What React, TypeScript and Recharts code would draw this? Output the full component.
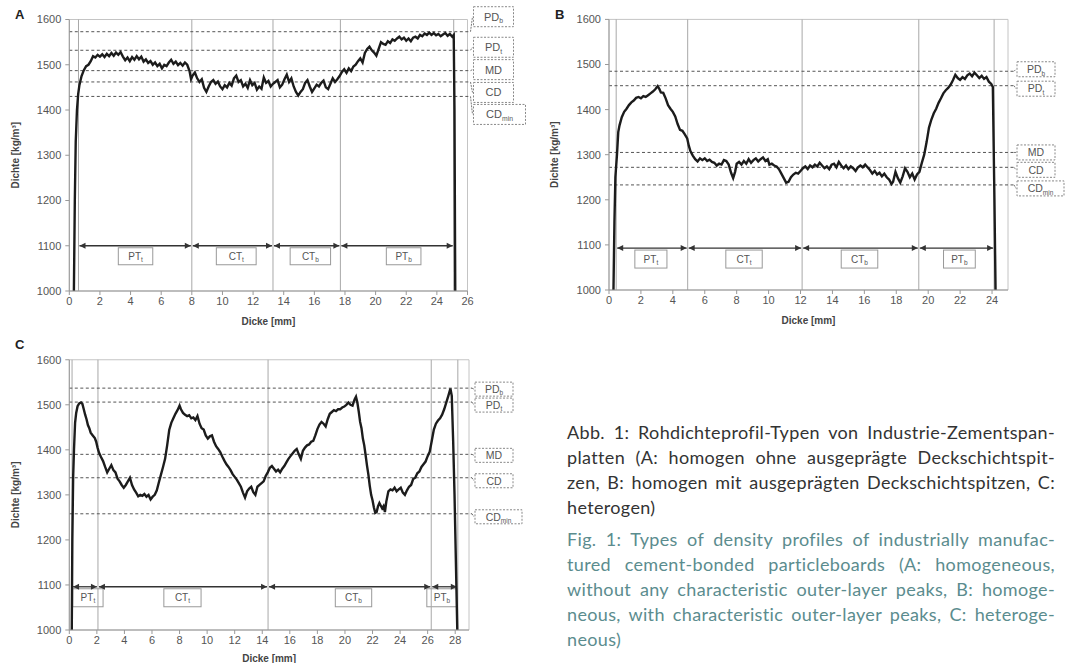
import React from 'react';
import { LineChart, Line, XAxis, YAxis, ReferenceLine, ReferenceArea, Label } from 'recharts';

// ---------------- data ----------------
const thicknessA = [0.30,0.36,0.42,0.50,0.58,0.66,0.80,0.95,1.10,1.25,1.40,1.55,1.70,1.85,2.00,2.15,2.30,2.45,2.60,2.75,2.90,3.05,3.20,3.35,3.50,3.65,3.80,3.95,4.10,4.25,4.40,4.55,4.70,4.85,5.00,5.15,5.30,5.45,5.60,5.75,5.90,6.05,6.20,6.35,6.50,6.65,6.80,6.95,7.10,7.25,7.40,7.55,7.70,7.85,7.95,8.05,8.20,8.35,8.50,8.65,8.80,8.95,9.10,9.25,9.40,9.55,9.70,9.85,10.00,10.15,10.30,10.45,10.60,10.75,10.90,11.05,11.20,11.35,11.50,11.65,11.80,11.95,12.10,12.25,12.40,12.55,12.70,12.85,13.00,13.15,13.30,13.45,13.60,13.75,13.90,14.05,14.20,14.35,14.50,14.65,14.80,14.95,15.10,15.25,15.40,15.55,15.70,15.85,16.00,16.15,16.30,16.45,16.60,16.75,16.90,17.05,17.20,17.35,17.50,17.65,17.80,17.95,18.10,18.25,18.40,18.55,18.70,18.85,19.00,19.15,19.30,19.45,19.60,19.75,19.90,20.05,20.20,20.35,20.50,20.65,20.80,20.95,21.10,21.25,21.40,21.55,21.70,21.85,22.00,22.15,22.30,22.45,22.60,22.75,22.90,23.05,23.20,23.35,23.50,23.65,23.80,23.95,24.10,24.25,24.40,24.55,24.70,24.85,25.00,25.10,25.15,25.20];
const densityA = [1000,1200,1330,1400,1435,1455,1475,1488,1497,1500,1508,1519,1516,1522,1518,1523,1517,1524,1519,1526,1520,1527,1522,1528,1518,1510,1516,1508,1517,1511,1519,1512,1518,1507,1512,1504,1508,1500,1505,1497,1502,1492,1500,1497,1505,1511,1502,1507,1499,1504,1498,1505,1500,1486,1468,1476,1483,1470,1462,1468,1449,1440,1452,1462,1466,1458,1463,1452,1446,1455,1450,1460,1454,1470,1476,1462,1466,1452,1458,1449,1466,1455,1460,1445,1452,1447,1472,1460,1464,1452,1458,1462,1466,1450,1456,1468,1478,1462,1470,1452,1440,1432,1440,1446,1460,1466,1452,1440,1448,1456,1452,1460,1465,1450,1446,1458,1470,1462,1468,1475,1484,1490,1482,1492,1486,1496,1500,1508,1514,1505,1526,1535,1540,1532,1527,1520,1535,1550,1546,1544,1552,1548,1556,1553,1558,1562,1556,1560,1553,1558,1552,1560,1562,1558,1566,1563,1569,1566,1571,1566,1570,1565,1568,1563,1567,1570,1564,1568,1562,1566,1400,1000];

const thicknessB = [0.28,0.34,0.40,0.50,0.58,0.66,0.80,0.95,1.10,1.25,1.40,1.55,1.70,1.85,2.00,2.15,2.30,2.45,2.60,2.75,2.90,3.05,3.15,3.25,3.40,3.55,3.70,3.85,4.00,4.15,4.30,4.45,4.60,4.75,4.90,5.00,5.10,5.25,5.40,5.55,5.70,5.85,6.00,6.15,6.30,6.45,6.60,6.75,6.90,7.05,7.20,7.35,7.50,7.65,7.78,7.90,8.00,8.15,8.30,8.45,8.60,8.75,8.90,9.05,9.20,9.35,9.50,9.65,9.80,9.95,10.05,10.20,10.35,10.50,10.65,10.80,10.95,11.10,11.25,11.40,11.55,11.70,11.85,12.00,12.15,12.30,12.45,12.60,12.75,12.90,13.05,13.20,13.35,13.50,13.65,13.80,13.95,14.10,14.25,14.40,14.55,14.70,14.85,15.00,15.15,15.30,15.45,15.60,15.75,15.90,16.05,16.20,16.35,16.50,16.65,16.80,16.95,17.10,17.25,17.40,17.55,17.70,17.80,17.95,18.10,18.25,18.40,18.55,18.70,18.85,19.00,19.15,19.30,19.45,19.60,19.75,19.90,20.05,20.20,20.35,20.50,20.65,20.80,20.95,21.10,21.25,21.40,21.55,21.70,21.85,22.00,22.15,22.30,22.45,22.60,22.75,22.90,23.05,23.20,23.35,23.50,23.65,23.80,23.95,24.05,24.15,24.22];
const densityB = [1000,1150,1250,1300,1350,1365,1383,1395,1402,1410,1416,1420,1426,1428,1425,1430,1428,1432,1436,1440,1445,1452,1446,1438,1437,1425,1410,1402,1395,1385,1368,1355,1353,1345,1336,1320,1308,1298,1290,1285,1292,1288,1292,1286,1289,1284,1282,1276,1280,1278,1288,1286,1278,1260,1248,1262,1280,1284,1278,1286,1280,1290,1282,1288,1292,1285,1290,1294,1286,1290,1278,1280,1276,1274,1268,1258,1248,1238,1240,1250,1256,1260,1258,1264,1270,1274,1268,1276,1272,1278,1274,1282,1276,1270,1274,1268,1278,1280,1272,1284,1276,1270,1276,1268,1274,1270,1264,1272,1276,1272,1278,1272,1266,1258,1264,1256,1260,1252,1258,1250,1245,1235,1240,1262,1248,1238,1252,1270,1262,1250,1258,1245,1256,1262,1282,1300,1328,1360,1378,1392,1402,1415,1425,1436,1443,1448,1455,1465,1477,1470,1466,1472,1468,1476,1480,1474,1482,1476,1470,1475,1468,1472,1462,1457,1450,1200,1000];

const thicknessC = [0.18,0.22,0.28,0.34,0.42,0.50,0.60,0.72,0.85,0.95,1.05,1.15,1.25,1.35,1.45,1.55,1.70,1.85,1.95,2.05,2.15,2.30,2.45,2.60,2.75,2.90,3.05,3.20,3.35,3.50,3.65,3.80,3.95,4.10,4.25,4.40,4.55,4.70,4.85,5.00,5.15,5.30,5.45,5.60,5.75,5.90,6.05,6.20,6.35,6.50,6.65,6.80,6.95,7.10,7.25,7.40,7.55,7.70,7.85,8.00,8.10,8.25,8.40,8.55,8.70,8.85,9.00,9.15,9.30,9.45,9.60,9.75,9.90,10.05,10.20,10.35,10.50,10.65,10.80,10.95,11.10,11.25,11.40,11.55,11.70,11.85,12.00,12.15,12.30,12.45,12.60,12.75,12.90,13.05,13.20,13.35,13.50,13.65,13.80,13.95,14.10,14.25,14.40,14.55,14.70,14.85,15.00,15.15,15.30,15.45,15.60,15.75,15.90,16.05,16.20,16.35,16.50,16.65,16.80,16.95,17.10,17.25,17.40,17.55,17.70,17.85,18.00,18.15,18.30,18.45,18.60,18.75,18.90,19.05,19.20,19.35,19.50,19.65,19.80,19.95,20.10,20.25,20.40,20.55,20.70,20.80,20.90,21.00,21.10,21.20,21.30,21.40,21.50,21.60,21.70,21.80,21.90,22.00,22.10,22.20,22.30,22.40,22.50,22.60,22.70,22.80,22.90,23.00,23.15,23.30,23.45,23.60,23.75,23.90,24.05,24.20,24.35,24.50,24.65,24.80,24.95,25.10,25.25,25.40,25.55,25.70,25.85,26.00,26.15,26.30,26.45,26.60,26.75,26.90,27.05,27.20,27.35,27.50,27.65,27.75,27.85,27.95,28.05,28.15];
const densityC = [1000,1200,1340,1400,1460,1482,1497,1503,1505,1502,1490,1478,1468,1455,1448,1438,1432,1426,1418,1405,1394,1384,1375,1362,1350,1358,1366,1355,1350,1336,1330,1322,1316,1322,1330,1338,1322,1312,1305,1297,1300,1298,1302,1296,1300,1290,1296,1300,1310,1328,1345,1362,1380,1410,1444,1460,1470,1480,1488,1498,1490,1482,1478,1475,1477,1470,1472,1466,1475,1458,1448,1445,1432,1425,1430,1432,1418,1408,1402,1395,1385,1376,1368,1362,1355,1346,1340,1334,1326,1318,1305,1294,1308,1314,1318,1306,1300,1318,1322,1326,1330,1342,1350,1360,1364,1358,1352,1356,1350,1358,1364,1372,1380,1386,1392,1398,1402,1390,1380,1398,1405,1410,1412,1418,1420,1432,1446,1456,1462,1458,1452,1468,1480,1484,1488,1486,1490,1490,1494,1496,1500,1505,1500,1498,1512,1518,1505,1485,1462,1448,1425,1410,1388,1365,1345,1320,1300,1288,1272,1260,1262,1275,1282,1276,1270,1275,1262,1285,1308,1312,1310,1316,1308,1312,1316,1305,1300,1310,1318,1322,1335,1338,1348,1352,1362,1368,1374,1386,1396,1420,1445,1458,1465,1470,1478,1490,1505,1520,1536,1520,1420,1300,1150,1000];

const yTicks = [1000, 1100, 1200, 1300, 1400, 1500, 1600];
const xTicksA = [0, 2, 4, 6, 8, 10, 12, 14, 16, 18, 20, 22, 24, 26];
const xTicksB = [0, 2, 4, 6, 8, 10, 12, 14, 16, 18, 20, 22, 24];
const xTicksC = [0, 2, 4, 6, 8, 10, 12, 14, 16, 18, 20, 22, 24, 26, 28];

const levelNames = [
  { n: 'PD', s: 'b' },
  { n: 'PD', s: 't' },
  { n: 'MD', s: '' },
  { n: 'CD', s: '' },
  { n: 'CD', s: 'min' },
];
const levelsA = [1573, 1532, 1487, 1462, 1430];
const levelsB = [1485, 1453, 1305, 1272, 1233];
const levelsC = [1537, 1506, 1390, 1338, 1258];

const bordersA = [0.6, 8.0, 13.3, 17.7, 25.1];
const bordersB = [0.45, 4.93, 12.1, 19.41, 24.13];
const bordersC = [0.2, 2.08, 14.42, 26.26, 28.19];

const sectionNames = [
  { n: 'PT', s: 't' },
  { n: 'CT', s: 't' },
  { n: 'CT', s: 'b' },
  { n: 'PT', s: 'b' },
];
const sectionSpansA = [[3.2, 5.45], [9.6, 12.2], [14.42, 17.06], [20.7, 22.96]];
const sectionSpansB = [[1.62, 3.63], [7.32, 9.6], [14.55, 16.84], [20.96, 22.95]];
const sectionSpansC = [[0.25, 2.45], [6.86, 9.56], [19.3, 21.94], [25.94, 28.14]];

const arrowLevelA = 1100;
const arrowLevelB = 1093;
const arrowLevelC = 1096;

const germanLines = [
  'Abb. 1: Rohdichteprofil-Typen von Industrie-Zementspan-',
  'platten (A: homogen ohne ausgeprägte Deckschichtspit-',
  'zen, B: homogen mit ausgeprägten Deckschichtspitzen, C:',
  'heterogen)',
];
const englishLines = [
  'Fig. 1: Types of density profiles of industrially manufac-',
  'tured cement-bonded particleboards (A: homogeneous,',
  'without any characteristic outer-layer peaks, B: homoge-',
  'neous, with characteristic outer-layer peaks, C: heteroge-',
  'neous)',
];

// ---------------- layout / styles ----------------
const FONT = 'Liberation Sans, Arial, sans-serif';

const layoutA = {
  letter: 'A', left: 0, top: 0, width: 530, height: 330,
  margin: { top: 19.5, right: 62.5, bottom: 9, left: 9.3 },
  xMax: 26, yLabelOffset: 6, xLabelOffset: -4,
  boxGap: 6, boxH: 20, boxW: [40, 40, 40, 40, 52], boxDy: [-15, -3, -1, 10.5, 18], boxFont: 11,
  secH: 17, letterX: 15, letterY: 7,
};
const layoutB = {
  letter: 'B', left: 530, top: 0, width: 535, height: 330,
  margin: { top: 19.4, right: 57, bottom: 10, left: 19 },
  xMax: 25, yLabelOffset: 5.6, xLabelOffset: -4,
  boxGap: 9, boxH: 15, boxW: [38, 38, 38, 38, 47], boxDy: [-2, 3, 0, 2.5, 3.5], boxFont: 10.5,
  secH: 18, letterX: 555, letterY: 7,
};
const layoutC = {
  letter: 'C', left: 0, top: 330, width: 530, height: 333,
  margin: { top: 29.75, right: 61, bottom: 3, left: 9.3 },
  xMax: 29, yLabelOffset: 6, xLabelOffset: -2,
  boxGap: 6, boxH: 14, boxW: [38, 38, 38, 38, 47], boxDy: [1, 3, 1, 3, 3], boxFont: 10.5,
  secH: 18, letterX: 15, letterY: 337,
};

function levelShape(name: string, sub: string, dy: number, w: number, L: any) {
  return (p: any) => {
    const xa = Math.min(p.x1, p.x2);
    const xb = Math.max(p.x1, p.x2);
    const y = p.y1;
    const bx = xb + L.boxGap;
    const by = y + dy;
    const h = L.boxH;
    return (
      <g>
        <line x1={xa} y1={y} x2={bx - 3} y2={y} stroke="#555" strokeWidth={1} strokeDasharray="3 2.5" />
        <polyline points={`${bx - 3},${y} ${bx - 1},${by}`} fill="none" stroke="#777" strokeWidth={1} strokeDasharray="2 1" />
        <rect x={bx} y={by - h / 2} width={w} height={h} fill="#fff" stroke="#888" strokeWidth={1} strokeDasharray="2 1.5" />
        <text x={bx + w / 2} y={by + L.boxFont * 0.36} textAnchor="middle" fontSize={L.boxFont} fill="#555" fontFamily={FONT}>
          {name}
          {sub ? <tspan fontSize={L.boxFont * 0.62} dy={2.5}>{sub}</tspan> : null}
        </text>
      </g>
    );
  };
}

const arrowShape = (p: any) => {
  const a = Math.min(p.x1, p.x2) + 1;
  const b = Math.max(p.x1, p.x2) - 1;
  const y = p.y1;
  return (
    <g>
      <line x1={a} y1={y} x2={b} y2={y} stroke="#333" strokeWidth={1.3} />
      <path d={`M${a},${y} l6,-3 v6 z`} fill="#333" />
      <path d={`M${b},${y} l-6,-3 v6 z`} fill="#333" />
    </g>
  );
};

function sectionShape(name: string, sub: string, L: any) {
  return (p: any) => {
    const { x, y, width } = p;
    const top = y + 2;
    return (
      <g>
        <rect x={x} y={top} width={width} height={L.secH} fill="#fff" stroke="#999" strokeWidth={1} />
        <text x={x + width / 2} y={top + L.secH / 2 + 3.5} textAnchor="middle" fontSize={10} fill="#555" fontFamily={FONT}>
          {name}
          <tspan fontSize={6.5} dy={2}>{sub}</tspan>
        </text>
      </g>
    );
  };
}

function Panel(props: any) {
  const { L, xs, ys, levels, borders, spans, arrowY, xTicks } = props;
  const data = xs.map((x: number, i: number) => ({ x, d: ys[i] }));
  const tickStyle = { fontSize: 11, fill: '#555', fontFamily: FONT };
  const titleStyle = { fontSize: 10, fontWeight: 'bold', fill: '#444', fontFamily: FONT };
  return (
    <div style={{ position: 'absolute', left: L.left, top: L.top }}>
      <LineChart width={L.width} height={L.height} data={data} margin={L.margin}>
        <XAxis
          type="number" dataKey="x" domain={[0, L.xMax]} ticks={xTicks} interval={0}
          height={30} tickSize={4} tickMargin={2} allowDataOverflow
          axisLine={{ stroke: '#999' }} tickLine={{ stroke: '#999' }} tick={tickStyle}
        >
          <Label value="Dicke [mm]" position="insideBottom" offset={L.xLabelOffset} style={titleStyle} />
        </XAxis>
        <YAxis
          type="number" domain={[1000, 1600]} ticks={yTicks} interval={0}
          width={60} tickSize={4} tickMargin={4} allowDataOverflow
          axisLine={{ stroke: '#999' }} tickLine={{ stroke: '#999' }} tick={tickStyle}
        >
          <Label value="Dichte [kg/m³]" angle={-90} position="insideLeft" offset={L.yLabelOffset} style={{ ...titleStyle, textAnchor: 'middle' }} />
        </YAxis>
        <ReferenceArea x1={0} x2={L.xMax} y1={1000} y2={1600} fill="none" stroke="#c4c4c4" strokeWidth={1} />
        {borders.map((b: number, i: number) => (
          <ReferenceLine key={'v' + i} x={b} stroke="#a8a8a8" strokeWidth={1} />
        ))}
        {levels.map((v: number, i: number) => (
          <ReferenceLine
            key={'h' + i} y={v}
            shape={levelShape(levelNames[i].n, levelNames[i].s, L.boxDy[i], L.boxW[i], L)}
          />
        ))}
        {borders.slice(0, -1).map((b: number, i: number) => (
          <ReferenceLine
            key={'a' + i}
            segment={[{ x: b, y: arrowY }, { x: borders[i + 1], y: arrowY }]}
            shape={arrowShape}
          />
        ))}
        {spans.map((s: number[], i: number) => (
          <ReferenceArea
            key={'s' + i} x1={s[0]} x2={s[1]} y1={arrowY - 40} y2={arrowY}
            shape={sectionShape(sectionNames[i].n, sectionNames[i].s, L)}
          />
        ))}
        <Line type="linear" dataKey="d" stroke="#1c1c1c" strokeWidth={2.4} dot={false} isAnimationActive={false} />
      </LineChart>
    </div>
  );
}

function Letter({ L }: any) {
  return (
    <div style={{ position: 'absolute', left: L.letterX, top: L.letterY, fontFamily: FONT, fontWeight: 'bold', fontSize: 13, color: '#222', lineHeight: '16px' }}>
      {L.letter}
    </div>
  );
}

function CaptionLine({ text, last, color }: any) {
  return (
    <div style={{ textAlign: last ? 'left' : 'justify', textAlignLast: last ? 'left' : 'justify', color } as any}>
      {text}
    </div>
  );
}

export default function App() {
  return (
    <div style={{ position: 'absolute', left: 0, top: 0, width: 1065, height: 663, background: '#fff', overflow: 'hidden' }}>
      <Panel L={layoutA} xs={thicknessA} ys={densityA} levels={levelsA} borders={bordersA} spans={sectionSpansA} arrowY={arrowLevelA} xTicks={xTicksA} />
      <Panel L={layoutB} xs={thicknessB} ys={densityB} levels={levelsB} borders={bordersB} spans={sectionSpansB} arrowY={arrowLevelB} xTicks={xTicksB} />
      <Panel L={layoutC} xs={thicknessC} ys={densityC} levels={levelsC} borders={bordersC} spans={sectionSpansC} arrowY={arrowLevelC} xTicks={xTicksC} />
      <Letter L={layoutA} />
      <Letter L={layoutB} />
      <Letter L={layoutC} />
      <div style={{ position: 'absolute', left: 567, top: 420, width: 488, fontFamily: 'Lato, sans-serif', fontSize: 18, lineHeight: '25px', letterSpacing: '0.35px' }}>
        {germanLines.map((t, i) => (
          <CaptionLine key={'g' + i} text={t} last={i === germanLines.length - 1} color="#333" />
        ))}
        <div style={{ height: 7 }} />
        {englishLines.map((t, i) => (
          <CaptionLine key={'e' + i} text={t} last={i === englishLines.length - 1} color="#5b8c8e" />
        ))}
      </div>
    </div>
  );
}
